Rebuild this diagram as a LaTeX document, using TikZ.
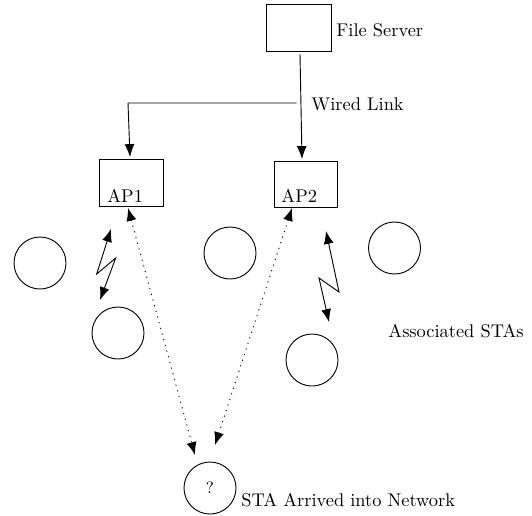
\documentclass[tikz,border=0pt]{standalone}
\usetikzlibrary{arrows.meta}
\begin{document}
\begin{tikzpicture}[x=0.544pt,y=-0.544pt,line width=0.5pt,
  box/.style={draw,rectangle,inner sep=0pt},
  sta/.style={draw,circle,minimum size=28.3pt,inner sep=0pt},
  lbl/.style={anchor=west,inner sep=0pt},
  arr/.style={-{Latex[length=7pt,width=5.4pt]}},
  darr/.style={{Latex[length=7pt,width=5.4pt]}-{Latex[length=7pt,width=5.4pt]}},
  dots/.style={dash pattern=on 0.6pt off 2.6pt}]
\useasboundingbox (0,0) rectangle (532,515);
% boxes
\node[box,minimum width=35.4pt,minimum height=25.6pt] (server) at (298.5,27.5) {};
\node[box,minimum width=34.8pt,minimum height=25.6pt] (ap1) at (131,182.5) {};
\node[box,minimum width=34.3pt,minimum height=25pt] (ap2) at (305.5,184) {};
\node[lbl] (ap1t) at (107,196) {AP1};
\node[lbl] (ap2t) at (281,196) {AP2};
\node[lbl] (servert) at (336,30) {File Server};
\node[lbl] (wired) at (311,104) {Wired Link};
% stations
\node[sta] (s1) at (40,263) {};
\node[sta] (s2) at (118,333) {};
\node[sta] (s3) at (230,253) {};
\node[sta] (s4) at (394.5,248) {};
\node[sta] (s5) at (312,360) {};
\node[sta] (q) at (210,488) {\small ?};
\node[lbl] (assoc) at (388,331) {Associated STAs};
\node[lbl] (arrived) at (241,500) {STA Arrived into Network};
% wired links
\coordinate (srvout) at (300,54);
\coordinate (ap2in) at (302,159);
\coordinate (junc) at (296.7,103);
\coordinate (corner) at (128,103);
\coordinate (ap1in) at (130,157);
\draw[arr] (srvout) -- (ap2in);
\draw[arr] (junc) -- (corner) -- (ap1in);
% wireless zigzags
\coordinate (z1a) at (111,229);
\coordinate (z1b) at (96.7,274);
\coordinate (z1c) at (115.7,258);
\coordinate (z1d) at (100,300);
\draw[darr] (z1a) -- (z1b) -- (z1c) -- (z1d);
\coordinate (z2a) at (326,231);
\coordinate (z2b) at (339,292);
\coordinate (z2c) at (319,278);
\coordinate (z2d) at (329,322);
\draw[darr] (z2a) -- (z2b) -- (z2c) -- (z2d);
% dotted probes
\coordinate (p1a) at (128,208);
\coordinate (p1b) at (195,455);
\coordinate (p2a) at (292,208);
\coordinate (p2b) at (215,445);
\draw[darr,dots] (p1a) -- (p1b);
\draw[darr,dots] (p2a) -- (p2b);
\end{tikzpicture}
\end{document}
